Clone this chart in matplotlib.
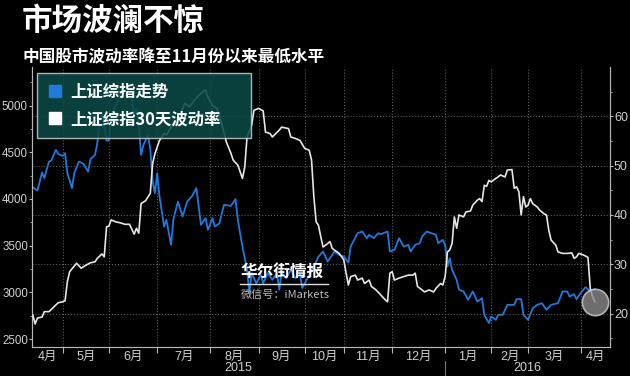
import matplotlib
matplotlib.use('Agg')
import matplotlib.pyplot as plt
from matplotlib.lines import Line2D

plt.rcParams['font.family'] = ['Liberation Sans', 'Noto Sans CJK SC', 'DejaVu Sans']

# trading-day index (0 = mid April 2015) and values
sse_days = [0, 2, 4, 5, 7, 8, 10, 11, 13, 14, 15, 17, 18, 20, 22, 24, 25, 27, 28, 29,
            30, 32, 33, 34, 36, 38, 40, 42, 43, 44, 45, 46, 47, 48, 50, 51, 52, 53, 54, 55,
            57, 58, 60, 61, 62, 63, 65, 67, 69, 71, 73, 75, 76, 78, 79, 81, 83, 86, 88, 89,
            91, 93, 94, 95, 97, 99, 100, 102, 104, 106, 107, 108, 110, 112, 114, 116, 117, 120, 122, 124,
            126, 128, 131, 133, 135, 137, 138, 141, 143, 145, 146, 148, 150, 151, 154, 155, 157, 159, 161, 163,
            164, 166, 168, 169, 171, 173, 175, 176, 178, 179, 180, 181, 182, 184, 185, 187, 189, 191, 193, 195,
            196, 198, 199, 201, 202, 204, 206, 209, 210, 212, 213, 215, 217, 219, 221, 223, 225, 228, 230, 232,
            233, 235, 236, 238, 240, 242, 244]
sse_vals = [4126, 4090, 4283, 4223, 4400, 4410, 4526, 4483, 4461, 4490, 4276, 4116, 4276, 4400, 4376, 4293, 4426, 4472, 4597, 4847,
            4919, 4625, 4625, 4882, 5000, 5130, 5110, 5166, 5062, 4887, 4967, 4785, 4472, 4576, 4686, 4527, 4192, 4062, 4276, 4026,
            3704, 3776, 3509, 3776, 3878, 3972, 3812, 3972, 4026, 4116, 3723, 3794, 3669, 3794, 3704, 3740, 3937, 3926, 3998, 3776,
            3490, 3241, 2990, 3206, 3098, 3187, 3098, 3206, 3134, 3206, 3027, 3206, 3152, 3241, 3152, 3187, 3045, 3187, 3276, 3383,
            3437, 3330, 3437, 3401, 3383, 3319, 3490, 3634, 3651, 3580, 3616, 3580, 3634, 3623, 3651, 3437, 3455, 3580, 3490, 3508,
            3437, 3508, 3526, 3598, 3651, 3634, 3616, 3526, 3562, 3508, 3276, 3366, 3241, 3134, 3027, 3009, 2920, 3009, 2901, 2938,
            2759, 2670, 2741, 2705, 2759, 2759, 2866, 2866, 2927, 2927, 2759, 2705, 2830, 2866, 2884, 2812, 2866, 2884, 3009, 3009,
            2955, 2981, 2927, 2998, 3056, 3009, 3034]

vol_days = [0, 1, 2, 4, 5, 7, 9, 11, 13, 14, 15, 16, 19, 21, 23, 25, 27, 28, 30, 31,
            32, 33, 34, 36, 38, 40, 42, 44, 45, 46, 47, 49, 51, 52, 53, 55, 57, 58, 60, 61,
            62, 64, 66, 68, 70, 73, 74, 75, 76, 78, 80, 82, 84, 86, 87, 89, 91, 92, 93, 95,
            96, 98, 100, 101, 103, 104, 107, 108, 111, 112, 114, 116, 118, 120, 121, 122, 123, 124, 125, 126,
            128, 129, 130, 133, 135, 136, 137, 138, 140, 141, 143, 144, 146, 147, 149, 151, 153, 154, 155, 156,
            157, 159, 161, 163, 165, 166, 167, 169, 170, 172, 174, 175, 177, 178, 179, 180, 181, 182, 183, 184,
            185, 187, 188, 190, 191, 193, 194, 195, 196, 197, 198, 199, 201, 202, 203, 205, 206, 208, 209, 210,
            211, 212, 213, 214, 215, 216, 217, 219, 220, 222, 223, 224, 225, 227, 228, 230, 232, 234, 235, 236,
            237, 239, 241, 242, 243, 244]
vol_vals = [19.7, 17.9, 19.1, 19.3, 20.4, 20.4, 21.3, 22.2, 22.4, 22.6, 26.5, 28.5, 30.2, 29.2, 29.8, 30.3, 30.5, 31.2, 32.1, 31.5,
            37.6, 37.7, 39.0, 38.6, 38.4, 38.1, 38.1, 36.1, 37.3, 36.3, 42.3, 42.9, 44.4, 50.4, 52.4, 55.1, 56.5, 56.2, 57.8, 58.5,
            58.2, 60.5, 62.6, 61.9, 63.2, 64.6, 65.1, 65.3, 63.9, 62.2, 61.6, 58.5, 54.8, 52.5, 51.1, 50.1, 47.4, 49.7, 55.8, 58.2,
            61.2, 61.6, 61.1, 56.8, 56.5, 55.8, 57.2, 57.8, 57.5, 55.8, 55.5, 55.1, 53.5, 53.1, 51.1, 43.7, 38.6, 37.9, 35.6, 33.5,
            34.2, 34.6, 33.2, 32.2, 30.9, 28.2, 25.8, 27.5, 27.8, 26.8, 27.2, 26.1, 26.8, 25.5, 24.8, 23.8, 22.8, 22.4, 28.2, 28.5,
            26.8, 27.2, 27.5, 27.8, 27.8, 28.2, 25.5, 24.8, 24.4, 24.8, 24.4, 25.1, 26.1, 25.8, 27.5, 32.5, 32.9, 34.2, 39.6, 37.3,
            40.0, 39.6, 40.6, 40.8, 42.0, 43.0, 43.3, 42.7, 46.0, 45.8, 47.0, 46.7, 47.4, 47.7, 48.1, 47.7, 49.1, 49.2, 45.4, 45.7,
            44.7, 40.0, 43.7, 41.6, 42.0, 43.3, 42.3, 41.6, 41.0, 40.2, 40.0, 36.9, 34.9, 33.9, 32.5, 32.2, 32.2, 32.3, 31.2, 31.5,
            32.2, 31.9, 31.4, 25.1, 23.4, 22.4]

# month boundaries in trading days and their labels
month_starts = [13, 33, 54, 77, 98, 118, 135, 156, 179, 199, 215, 238]
month_labels = ['4月', '5月', '6月', '7月', '8月', '9月', '10月', '11月', '12月',
                '1月', '2月', '3月', '4月']
years = ['2015', '2016']

title = '市场波澜不惊'
subtitle = '中国股市波动率降至11月份以来最低水平'
series_names = ['上证综指走势', '上证综指30天波动率']

blue = '#2079dc'
white = '#e6e6e6'
grey = '#b5b5b5'

fig = plt.figure(figsize=(6.3, 3.76), dpi=100, facecolor='black')
ax = fig.add_axes([0.051, 0.078, 0.917, 0.744])
ax.set_facecolor('black')
ax2 = ax.twinx()

x0, x1 = -0.3, 250.5
ax.plot(sse_days, sse_vals, color=blue, lw=1.3, zorder=3)
ax2.plot(vol_days, vol_vals, color=white, lw=1.2, zorder=3)
ax2.plot(vol_days[-1], vol_vals[-1], 'o', ms=19, mfc='#8a8a8a', mec='#d0d0d0',
         mew=1.2, alpha=0.8, zorder=4)

ax.set_xlim(x0, x1)
ax.set_ylim(2418, 5414)
ax2.set_ylim(13.3, 70)

ax.set_yticks([2500, 3000, 3500, 4000, 4500, 5000])
ax.set_yticks([2750, 3250, 3750, 4250, 4750, 5250], minor=True)
ax2.set_yticks([20, 30, 40, 50, 60])
ax2.set_yticks([15, 25, 35, 45, 55, 65], minor=True)

edges = [x0] + month_starts + [x1]
centers = [(a + b) / 2 for a, b in zip(edges[:-1], edges[1:])]
ax.set_xticks(month_starts)
ax.set_xticklabels([])
ax.set_xticks(centers, minor=True)
ax.set_xticklabels(month_labels, minor=True)
ax.tick_params(axis='x', which='major', length=4, color=grey)
ax.tick_params(axis='x', which='minor', length=0, pad=3, labelsize=9, labelcolor='#d0d0d0')

for a in (ax, ax2):
    a.tick_params(axis='y', which='major', length=2, color=grey, labelsize=8.3,
                  labelcolor='#d0d0d0', pad=1)
    a.tick_params(axis='y', which='minor', length=1.5, color=grey)
    for s in a.spines.values():
        s.set_color(grey)
    a.spines['top'].set_visible(False)
ax2.tick_params(axis='y', labelsize=9)

ax.grid(axis='x', which='major', color='#5a5a5a', ls=':', lw=0.8)
ax2.grid(axis='y', which='major', color='#5a5a5a', ls=':', lw=0.8)
ax2.set_xlim(x0, x1)

# year labels and separator
xt = ax.get_xaxis_transform()
year_edges = [x0, month_starts[8], x1]
for i, yr in enumerate(years):
    ax.text((year_edges[i] + year_edges[i + 1]) / 2, -0.076, yr, transform=xt,
            ha='center', va='center', fontsize=9, color='#d0d0d0')
ax.plot([month_starts[8], month_starts[8]], [-0.05, -0.11], transform=xt,
        color='#777777', lw=0.8, clip_on=False)

handles = [Line2D([], [], ls='none', marker='s', ms=9, color=blue),
           Line2D([], [], ls='none', marker='s', ms=9, color='white')]
leg = ax2.legend(handles, series_names, loc='upper left',
                 bbox_to_anchor=(0.009, 0.977, 0.370, 0.0), mode='expand',
                 borderaxespad=0, frameon=True, fancybox=False, handlelength=0.9,
                 handletextpad=0.5, borderpad=0.6, labelspacing=0.55,
                 prop={'family': ['Noto Sans CJK SC'], 'weight': 'bold', 'size': 11.8})
leg.get_frame().set_facecolor('#0b4a47')
leg.get_frame().set_edgecolor('#c8c8c8')
leg.get_frame().set_alpha(0.88)
for t in leg.get_texts():
    t.set_color('white')

fig.text(0.035, 0.944, title, color='white', fontsize=22, fontweight='bold',
         family=['Noto Sans CJK SC'], va='center', ha='left')
fig.text(0.035, 0.848, subtitle, color='white', fontsize=12, fontweight='bold',
         family=['Noto Sans CJK SC'], va='center', ha='left')

# watermark
fig.text(0.382, 0.277, '华尔街情报', color='white', fontsize=12, fontweight='bold',
         family=['Noto Sans CJK SC'], va='center', ha='left', zorder=10)
fig.add_artist(Line2D([0.381, 0.521], [0.246, 0.246], color='#dddddd', lw=1))
fig.text(0.382, 0.215, '微信号：iMarkets', color='#bbbbbb', fontsize=8,
         family=['Noto Sans CJK SC'], va='center', ha='left', zorder=10)

fig.savefig('out.png', dpi=100, facecolor='black')
